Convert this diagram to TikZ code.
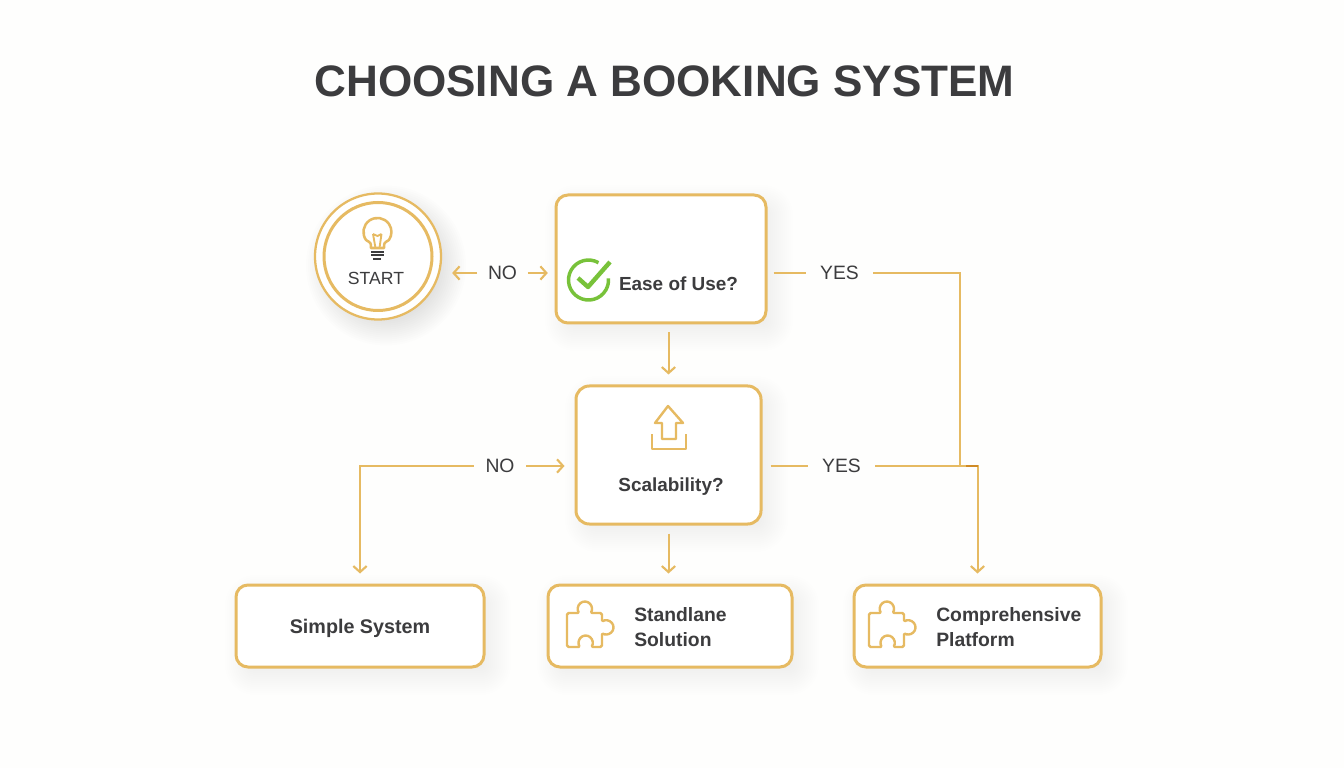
\documentclass[tikz,border=0pt]{standalone}
\usepackage{fontspec}
\setmainfont{Liberation Sans}
\usetikzlibrary{arrows.meta,calc}
\definecolor{gold}{HTML}{E6BA62}
\definecolor{ink}{HTML}{3C3C3E}
\definecolor{leaf}{HTML}{78C23A}
\definecolor{paper}{HTML}{FEFEFD}
\definecolor{hot}{HTML}{CF8A25}
\newcommand{\softbox}[5]{%
  \foreach \e in {-10,-8,...,18}{%
    \pgfmathsetmacro{\rr}{max(1,#5+\e)*0.75}
    \fill[black,opacity=.0055,rounded corners=\rr pt]
      ({#1-#3/2-\e+8},{#2-#4/2-\e-9}) rectangle ({#1+#3/2+\e+8},{#2+#4/2+\e-9});
  }%
}
\newcommand{\softdisc}[3]{%
  \foreach \e in {-10,-8,...,18}{%
    \fill[black,opacity=.007] ({#1+8},{#2-9}) circle[radius={(#3+\e)*0.75pt}];
  }%
}
\newcommand{\puzzle}[2]{%
  \begin{scope}[shift={(#1,#2)}]
    \draw[icon,rounded corners=1.2pt]
      (0,-12) -- (12.5,-12) arc[start angle=220,end angle=-40,radius=5.25pt]
      -- (35,-12) -- (35,-21) arc[start angle=130,end angle=-130,radius=5.25pt]
      -- (35,-46) -- (24,-46) arc[start angle=-40,end angle=220,radius=5.25pt]
      -- (0,-46) -- cycle;
  \end{scope}%
}
\tikzset{
  x=.75pt,y=.75pt,
  flowbox/.style={draw=gold,line width=2.25pt,fill=white,rounded corners=#1,inner sep=0pt},
  flowbox/.default=9pt,
  ring/.style={circle,draw=gold,line width=1.7pt,fill=white,inner sep=0pt},
  conn/.style={draw=gold,line width=1.5pt},
  arr/.style={conn,-{Straight Barb[length=4.5pt,width=10pt,line width=1.6pt]}},
  icon/.style={draw=gold,line width=1.8pt,line join=round},
  boxtext/.style={text=ink,font=\fontsize{14.2pt}{18.75pt}\selectfont\bfseries,inner sep=0pt,align=left},
  boxtextb/.style={boxtext,font=\fontsize{14.5pt}{18.75pt}\selectfont\bfseries},
  lab/.style={text=ink,font=\fontsize{14.5pt}{17pt}\selectfont},
}
\begin{document}
\begin{tikzpicture}
\useasboundingbox (0,0) rectangle (1344,768);
\fill[paper] (0,0) rectangle (1344,768);

\node[text=ink,font=\fontsize{33.05pt}{38pt}\selectfont\bfseries,inner sep=0pt] (title) at (664.5,686.5) {CHOOSING A BOOKING SYSTEM};

% shadows
\softdisc{378}{511.5}{62}
\softbox{661}{509}{212}{130}{12}
\softbox{668.5}{313}{187}{140}{14}
\softbox{360}{142}{250}{84}{12}
\softbox{670}{142}{246}{84}{12}
\softbox{977.5}{142}{249}{84}{12}

% shapes
\node[ring,minimum size=94.5pt] (startouter) at (378,511.5) {};
\node[ring,line width=2.25pt,minimum size=81pt] (start) at (378,511.5) {};
\node[flowbox,minimum width=157.5pt,minimum height=96pt] (ease) at (661,509) {};
\node[flowbox=10pt,minimum width=138.75pt,minimum height=103.5pt] (scal) at (668.5,313) {};
\node[flowbox,minimum width=186pt,minimum height=61.5pt] (simple) at (360,142) {};
\node[flowbox,minimum width=183pt,minimum height=61.5pt] (stand) at (670,142) {};
\node[flowbox,minimum width=185.25pt,minimum height=61.5pt] (comp) at (977.5,142) {};

% texts
\node[text=ink,font=\fontsize{13.2pt}{15pt}\selectfont,inner sep=0pt] (starttext) at (376,489.5) {START};
\node[boxtext] (easetext) at (678.5,484) {Ease of Use?};
\node[boxtext] (scaltext) at (671,281) {Scalability?};
\node[boxtext,font=\fontsize{14.8pt}{18.75pt}\selectfont\bfseries] (simpletext) at (360,140) {Simple System};
\node[boxtextb,anchor=west] (standtext) at (634,140.5) {Standlane\\Solution};
\node[boxtextb,anchor=west] (comptext) at (936,140.5) {Comprehensive\\Platform};

% branch labels
\node[lab,inner sep=8pt] (no1) at (502.5,495) {NO};
\node[lab,inner sep=10.5pt] (yes1) at (839.5,495) {YES};
\node[lab,inner sep=8.6pt] (no2) at (500,302) {NO};
\node[lab,inner sep=10.5pt] (yes2) at (841.5,302) {YES};
\coordinate (join) at (960,302);

% connectors
\draw[arr,shorten >=7.5pt] (no1.west) -- (no1.west -| startouter.east);
\draw[arr,shorten >=5pt] (no1.east) -- (no1.east -| ease.west);
\draw[conn,shorten <=4.5pt] (ease.east |- yes1.west) -- (yes1.west);
\draw[conn] (yes1.east) -| (join);
\draw[arr,shorten <=6pt,shorten >=7.5pt] (ease.south -| scal.north) -- (scal.north);
\draw[arr,shorten >=7.5pt] (no2.west) -| (simple.north);
\draw[arr,shorten >=7.5pt] (no2.east) -- (no2.east -| scal.west);
\draw[conn,shorten <=6pt] (scal.east |- yes2.west) -- (yes2.west);
\draw[arr,shorten >=7.5pt] (yes2.east) -| (comp.north);
\draw[hot,line width=1.5pt] ($(join)+(6,0)$) -- (join -| comp.north);
\draw[arr,shorten <=6pt,shorten >=7.5pt] (scal.south) -- (scal.south |- stand.north);

% icons
\draw[icon,line width=1.9pt] (371,520) .. controls (371,525) .. (366,528)
  arc[start angle=215,end angle=-35,radius=10.5pt]
  .. controls (384,525) .. (384,520) -- cycle;
\draw[icon,line width=1.4pt] (373,534) -- (375.5,520) (381.5,534) -- (379.5,520) (373,534) -- (377.5,532) -- (381.5,534);
\draw[ink,line width=2pt] (371,516) -- (384,516) (371,513) -- (384,513);
\draw[ink,line width=2.2pt] (373,509) -- (381,509);

\draw[leaf,line width=2.6pt] (598.5,505.3) arc[start angle=60,end angle=365,radius=15pt];
\draw[leaf,line width=3.3pt,line join=round] (578,490) -- (588,481) -- (610,506);

\draw[icon] (668,362) -- (683,345) -- (676,345) -- (676,329) -- (662,329) -- (662,345) -- (655,345) -- cycle;
\draw[icon] (652,334) -- (652,319) -- (686,319) -- (686,334);

\puzzle{567}{167}
\puzzle{869}{167}
\end{tikzpicture}
\end{document}
